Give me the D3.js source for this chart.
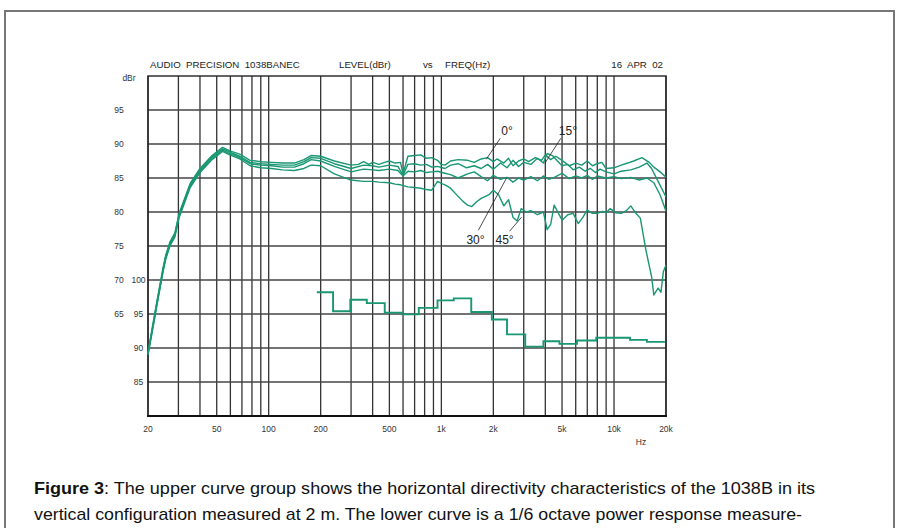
<!DOCTYPE html>
<html>
<head>
<meta charset="utf-8">
<script src="https://cdn.jsdelivr.net/npm/d3@7"></script>
<style>
  body { margin: 0; background: #fff; }
  text { font-family: "Liberation Sans", Arial, sans-serif; }
</style>
</head>
<body>
<svg id="chart" width="898" height="528"></svg>
<script>
// Frequency grid and tick labels
const gridFreqs = [20, 30, 40, 50, 60, 70, 80, 90, 100, 200, 300, 400, 500, 600, 700, 800, 900,
  1000, 2000, 3000, 4000, 5000, 6000, 7000, 8000, 9000, 10000, 20000];
const xTicks = [20, 50, 100, 200, 500, 1000, 2000, 5000, 10000, 20000];
const xTickLabels = ["20", "50", "100", "200", "500", "1k", "2k", "5k", "10k", "20k"];
const levelTicks = [95, 90, 85, 80, 75, 70, 65];
const powerTicks = [100, 95, 90, 85];

// Directivity curves: [Hz, dBr]
const angle0 = [[20,59.3],[21,62.5],[22.5,66.8],[24.4,71.7],[25.3,73.6],[26.8,75.6],[28.6,76.9],[30.3,79.8],[35.1,84.2],[40,86.4],[47,88.3],[54,89.5],[59.5,89.0],[68,88.5],[78,87.6],[90,87.4],[104,87.3],[120,87.2],[141,87.2],[160,87.7],[176,88.3],[200,88.2],[240,87.5],[300,86.9],[330,87.0],[355,87.4],[380,87.0],[400,87.3],[435,87.0],[470,87.3],[500,87.5],[540,87.2],[580,87.3],[600,85.6],[640,88.2],[700,88.3],[760,88.4],[820,87.9],[880,88.0],[950,87.6],[1000,87.0],[1050,86.9],[1130,87.5],[1250,87.7],[1420,87.6],[1550,87.3],[1700,87.8],[1850,88.0],[2000,87.4],[2100,87.8],[2300,87.2],[2450,87.9],[2600,86.8],[2800,87.5],[3000,87.8],[3200,87.4],[3500,88.0],[3800,87.6],[4000,88.4],[4300,87.7],[4600,88.2],[5000,87.6],[5500,86.8],[6000,87.2],[6500,86.9],[7000,87.5],[7500,86.8],[8000,87.1],[8500,87.3],[9000,86.4],[10000,86.5],[11000,86.9],[12000,87.2],[13000,87.5],[14500,88.0],[16000,87.3],[17000,86.6],[18500,85.9],[20000,85.1]];
const angle15 = [[20,59.2],[21,62.3],[22.5,66.6],[24.4,71.5],[25.3,73.4],[26.8,75.4],[28.6,76.7],[30.3,79.6],[35.1,84.0],[40,86.2],[47,88.1],[54,89.3],[59.5,88.8],[68,88.2],[78,87.3],[90,87.1],[104,87.0],[120,86.9],[141,86.9],[160,87.4],[176,88.0],[200,87.9],[240,87.1],[300,86.4],[355,86.9],[400,86.8],[435,86.6],[500,86.9],[560,86.7],[600,85.4],[640,87.0],[700,87.1],[760,86.9],[820,87.0],[880,86.6],[950,86.7],[1050,86.4],[1130,86.9],[1250,87.1],[1400,86.5],[1550,86.8],[1700,86.4],[1850,87.0],[2000,86.3],[2200,87.2],[2400,86.5],[2600,87.6],[2800,86.7],[3000,87.3],[3300,87.0],[3600,87.9],[3900,87.2],[4100,88.6],[4400,88.3],[4700,87.5],[5000,86.8],[5400,87.0],[5800,86.2],[6300,86.6],[6800,86.0],[7300,86.4],[7800,85.8],[8300,86.3],[9000,85.9],[10000,85.6],[11000,86.0],[12500,86.2],[14000,86.6],[15500,87.2],[16500,86.4],[18000,84.5],[20000,82.2]];
const angle30 = [[20,59.1],[21,62.1],[22.5,66.4],[24.4,71.3],[25.3,73.2],[26.8,75.2],[28.6,76.5],[30.3,79.4],[35.1,83.8],[40,86.0],[47,87.9],[54,89.1],[59.5,88.6],[68,88.0],[78,87.1],[90,86.9],[104,86.8],[120,86.6],[141,86.6],[160,87.1],[176,87.7],[200,87.5],[240,86.7],[300,85.9],[355,86.3],[400,86.2],[435,86.1],[500,86.3],[560,86.1],[600,85.3],[640,86.0],[700,85.9],[760,86.1],[820,85.8],[880,85.9],[950,86.0],[1050,85.7],[1130,85.5],[1250,85.0],[1420,85.6],[1550,85.9],[1700,85.2],[1850,84.6],[2000,85.4],[2200,84.8],[2400,85.1],[2600,84.4],[2800,85.0],[3000,84.7],[3300,85.2],[3600,84.6],[3900,85.3],[4200,84.8],[4600,85.2],[5000,85.7],[5500,84.9],[6000,85.3],[6500,85.0],[7000,85.4],[7500,84.8],[8000,85.3],[9000,85.0],[10000,85.2],[11000,84.9],[12500,85.1],[14000,84.7],[15500,85.0],[17000,84.3],[18500,82.5],[20000,80.1]];
const angle45 = [[20,59.0],[21,61.9],[22.5,66.2],[24.4,71.1],[25.3,73.0],[26.8,75.0],[28.6,76.3],[30.3,79.2],[35.1,83.6],[40,85.8],[47,87.7],[54,88.9],[59.5,88.4],[68,87.8],[78,86.8],[90,86.5],[104,86.4],[120,86.2],[141,86.1],[160,86.4],[176,86.9],[200,86.8],[240,85.6],[300,84.7],[355,84.5],[400,84.5],[435,84.4],[500,84.3],[540,84.1],[580,84.0],[640,83.7],[700,83.6],[760,83.5],[820,83.3],[880,83.2],[950,84.5],[1000,84.2],[1050,84.0],[1130,83.5],[1250,82.3],[1330,81.6],[1420,81.0],[1500,80.8],[1600,81.5],[1700,82.0],[1800,82.3],[1900,82.6],[2000,83.2],[2150,82.5],[2300,80.9],[2450,81.8],[2600,79.2],[2750,78.7],[2900,80.5],[3100,80.0],[3300,80.2],[3600,79.6],[3900,80.0],[4100,77.4],[4300,78.2],[4500,81.0],[5000,78.8],[5400,79.6],[5800,79.8],[6200,78.3],[6600,79.2],[7000,80.3],[7500,79.8],[8000,79.8],[8600,80.1],[9000,79.9],[9500,80.5],[10200,79.9],[11000,79.8],[11800,80.2],[12500,80.9],[13300,79.9],[14200,79.1],[15300,74.4],[16500,70.5],[17000,67.8],[18000,68.8],[18700,68.2],[19300,71.2],[20000,72.2]];

// 1/6 octave power response: band edges (Hz) and levels (right scale dB)
const powerEdges = [190, 236, 297, 370, 470, 590, 740, 950, 1180, 1490, 1960, 2400, 3060, 3900, 4830, 6100, 7890, 12380, 15500, 19700];
const powerLevels = [98.2, 95.4, 97.1, 96.6, 95.2, 94.95, 95.9, 97.0, 97.3, 95.3, 94.2, 92.0, 90.2, 91.0, 90.6, 91.1, 91.5, 91.2, 90.9];

// Curve labels: text, anchor on curve (Hz, dBr)
const curveLabels = [
  { text: "0°", f: 1820, db: 87.75, dx: 14, dy: -21, tx: 1, ty: -3 },
  { text: "15°", f: 3975, db: 87.16, dx: 16, dy: -25, tx: -2, ty: -3 },
  { text: "30°", f: 2380, db: 84.96, dx: -28, dy: 52, tx: -12, ty: 14 },
  { text: "45°", f: 2910, db: 79.22, dx: -12, dy: 14, tx: -14, ty: 13 }
];

const margin = { top: 76, right: 234, bottom: 112, left: 148 };
const svgW = 898, svgH = 528;
const green = "#18977224";

const svg = d3.select("#chart");

// Outer frame
svg.append("rect")
  .attr("x", 5).attr("y", 11)
  .attr("width", 889).attr("height", 540)
  .attr("fill", "none")
  .attr("stroke", "#777")
  .attr("stroke-width", 2);

// Scales
const x = d3.scaleLog().domain([20, 20000]).range([margin.left, svgW - margin.right + 2]);
const y = d3.scaleLinear().domain([50, 100]).range([svgH - margin.bottom, margin.top]);
const yPow = d3.scaleLinear().domain([80, 130]).range([svgH - margin.bottom, margin.top]);

const x0 = x(20), x1 = x(20000), y0 = y(50), y1 = y(100);

// Grid lines
svg.append("g").selectAll("line")
  .data(gridFreqs)
  .enter().append("line")
  .attr("x1", d => x(d)).attr("x2", d => x(d))
  .attr("y1", y1).attr("y2", y0)
  .attr("stroke", "#333")
  .attr("stroke-width", 1.3);

svg.append("g").selectAll("line")
  .data(d3.range(55, 100, 5))
  .enter().append("line")
  .attr("x1", x0).attr("x2", x1)
  .attr("y1", d => y(d)).attr("y2", d => y(d))
  .attr("stroke", "#444")
  .attr("stroke-width", 1.4);

// Border
svg.append("rect")
  .attr("x", x0).attr("y", y1)
  .attr("width", x1 - x0).attr("height", y0 - y1)
  .attr("fill", "none")
  .attr("stroke", "#222")
  .attr("stroke-width", 1.4);
svg.append("line")
  .attr("x1", x0 - 1).attr("x2", x1 + 1)
  .attr("y1", y0).attr("y2", y0)
  .attr("stroke", "#111")
  .attr("stroke-width", 2.2);

// Axis labels
svg.append("g").selectAll("text")
  .data(xTicks)
  .enter().append("text")
  .attr("x", d => x(d))
  .attr("y", 432)
  .attr("text-anchor", "middle")
  .style("font-size", "8.5px")
  .style("fill", "#333")
  .text((d, i) => xTickLabels[i]);

svg.append("text")
  .attr("x", 641).attr("y", 445)
  .attr("text-anchor", "middle")
  .style("font-size", "8.5px").style("fill", "#333")
  .text("Hz");

svg.append("g").selectAll("text")
  .data(levelTicks)
  .enter().append("text")
  .attr("x", 119)
  .attr("y", d => y(d))
  .attr("dy", "0.35em")
  .attr("text-anchor", "middle")
  .style("font-size", "8.5px").style("fill", "#333")
  .text(d => d);

svg.append("g").selectAll("text")
  .data(powerTicks)
  .enter().append("text")
  .attr("x", 138.5)
  .attr("y", d => yPow(d))
  .attr("dy", "0.35em")
  .attr("text-anchor", "middle")
  .style("font-size", "8.5px").style("fill", "#333")
  .text(d => d);

svg.append("text")
  .attr("x", 129).attr("y", 81)
  .attr("text-anchor", "middle")
  .style("font-size", "8.5px").style("fill", "#333")
  .text("dBr");

// Header
const header = [
  { t: "AUDIO  PRECISION  1038BANEC", x: 150, anchor: "start" },
  { t: "LEVEL(dBr)", x: 339, anchor: "start" },
  { t: "vs", x: 423, anchor: "start" },
  { t: "FREQ(Hz)", x: 445, anchor: "start" },
  { t: "16  APR  02", x: 663, anchor: "end" }
];
svg.append("g").selectAll("text")
  .data(header)
  .enter().append("text")
  .attr("x", d => d.x).attr("y", 68)
  .attr("text-anchor", d => d.anchor)
  .style("font-size", "9.7px").style("fill", "#222")
  .style("white-space", "pre")
  .attr("xml:space", "preserve")
  .text(d => d.t);

// Curves
const line = d3.line()
  .x(d => x(d[0]))
  .y(d => y(d[1]));

[angle45, angle30, angle15, angle0].forEach(series => {
  svg.append("path")
    .datum(series)
    .attr("d", line)
    .attr("fill", "none")
    .attr("stroke", "#189772")
    .attr("stroke-width", 1.4)
    .attr("stroke-linejoin", "round");
});

// Power response steps
const powerPoints = powerLevels.map((v, i) => [powerEdges[i], v]);
powerPoints.push([powerEdges[powerEdges.length - 1], powerLevels[powerLevels.length - 1]]);
svg.append("path")
  .datum(powerPoints)
  .attr("d", d3.line().x(d => x(d[0])).y(d => yPow(d[1])).curve(d3.curveStepAfter))
  .attr("fill", "none")
  .attr("stroke", "#189772")
  .attr("stroke-width", 1.9);

// Curve labels with leaders
curveLabels.forEach(l => {
  const ax = x(l.f), ay = y(l.db);
  svg.append("line")
    .attr("x1", ax).attr("y1", ay)
    .attr("x2", ax + l.dx).attr("y2", ay + l.dy)
    .attr("stroke", "#222")
    .attr("stroke-width", 0.8);
  svg.append("text")
    .attr("x", ax + l.dx + l.tx)
    .attr("y", ay + l.dy + l.ty)
    .style("font-size", "12px").style("fill", "#222")
    .text(l.text);
});

// Caption
const caption = svg.append("g").style("font-size", "17px").style("fill", "#111");
const cap1 = caption.append("text").attr("x", 34).attr("y", 494)
  .attr("textLength", 781).attr("lengthAdjust", "spacingAndGlyphs");
cap1.append("tspan").style("font-weight", "bold").text("Figure 3");
cap1.append("tspan").text(": The upper curve group shows the horizontal directivity characteristics of the 1038B in its");
caption.append("text").attr("x", 34).attr("y", 520)
  .attr("textLength", 768).attr("lengthAdjust", "spacingAndGlyphs")
  .text("vertical configuration measured at 2 m. The lower curve is a 1/6 octave power response measure-");
</script>
</body>
</html>
